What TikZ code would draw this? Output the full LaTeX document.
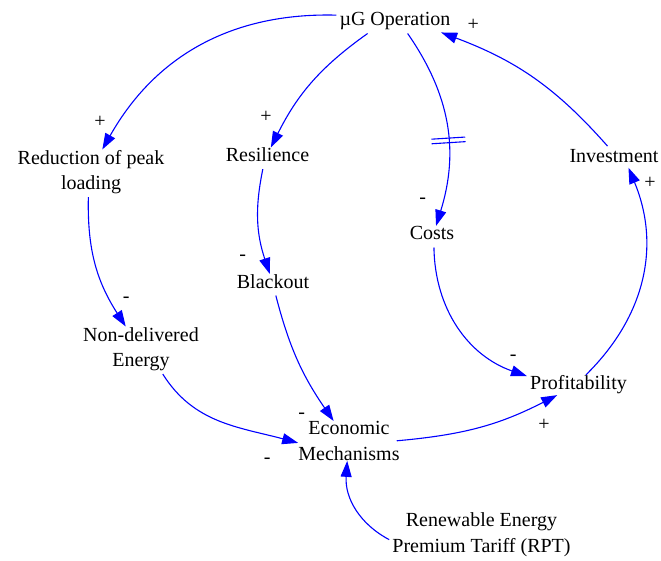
\documentclass[tikz,border=0pt]{standalone}
\usepackage{fontspec}
\setmainfont{Liberation Serif}
\usetikzlibrary{arrows.meta,decorations.markings}
\begin{document}
\begin{tikzpicture}[x=1pt,y=-1pt,
  base/.style={font=\fontsize{20}{25.5}\selectfont, inner sep=3pt},
  one/.style={base, text height=13.7pt, text depth=4.3pt},
  multi/.style={base, align=center},
  sgn/.style={font=\fontsize{20}{24}\selectfont, inner sep=0pt},
  link/.style={draw=blue, line width=1.1pt, -{Triangle[length=16pt,width=11pt]}, shorten >=-3pt},
  delay/.style={postaction={decorate, decoration={markings, mark=at position #1 with {
      \draw[blue, line width=1.1pt, -, shorten >=0pt, shorten <=0pt] (-2.3pt,-17pt) -- (-2.3pt,17pt) (2.3pt,-17pt) -- (2.3pt,17pt);}}}},
]
\useasboundingbox (0,0) rectangle (661,561);

% variables
\node[one] (op) at (395,21.3) {µG Operation};
\node[multi] (red) at (91,172) {Reduction of peak\\loading};
\node[one] (res) at (267.5,157) {Resilience};
\node[one] (inv) at (614,158.3) {Investment};
\node[one] (costs) at (432,235.3) {Costs};
\node[one] (black) at (273,283.3) {Blackout};
\node[multi] (nondel) at (141,349) {Non-delivered\\Energy};
\node[one] (prof) at (578.5,384.3) {Profitability};
\node[multi] (econ) at (349,441.2) {Economic\\Mechanisms};
\node[multi] (rpt) at (481.5,534.8) {Renewable Energy\\Premium Tariff (RPT)};

% links
\draw[link] (op.174) to[bend right=31] (red.63);
\draw[link] (op.204) to[bend right=14] (res.69);
\draw[link, delay=0.58] (op.316) to[bend left=26] (costs.68);
\draw[link] (inv.118) to[bend right=14] (op.346);
\draw[link] (red.264) to[bend right=17] (nondel.124);
\draw[link] (res.249) to[bend right=15] (black.109);
\draw[link, shorten >=0pt] (costs.279) to[bend right=35] (prof.171);
\draw[link, shorten <=-4pt] (prof.50) to[bend right=34] (inv.322);
\draw[link] (nondel.311) to[out=302,in=165] (econ.181);
\draw[link] (black.283) to[bend right=10] (econ.127);
\draw[link, shorten <=-6pt] (econ.1) to[bend right=11] (prof.207);
\draw[link] (rpt.183) to[bend left=33] (econ.265);

% polarities
\node[sgn] (s1) at (100,121.7) {+};
\node[sgn] (s2) at (266,117.3) {+};
\node[sgn] (s3) at (422.7,200.3) {-};
\node[sgn] (s4) at (473.3,25) {+};
\node[sgn] (s5) at (126.3,299.3) {-};
\node[sgn] (s6) at (242.8,258) {-};
\node[sgn] (s7) at (513.3,358) {-};
\node[sgn] (s8) at (650,183.3) {+};
\node[sgn] (s9) at (267.3,461) {-};
\node[sgn] (s10) at (301.7,415.3) {-};
\node[sgn] (s11) at (544,425) {+};
\end{tikzpicture}
\end{document}
